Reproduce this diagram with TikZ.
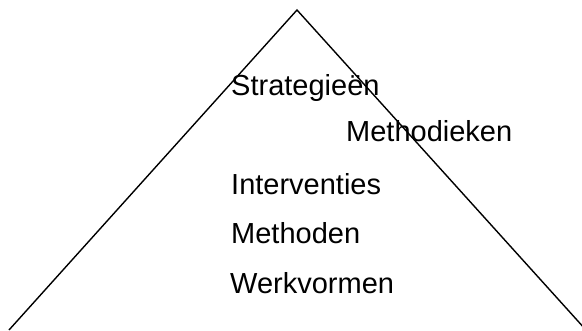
\documentclass[tikz,border=0pt]{standalone}
\usepackage{fontspec}
\setmainfont{Liberation Sans}
\begin{document}
\begin{tikzpicture}[x=1pt,y=-1pt,
  lbl/.style={anchor=base west,inner sep=0pt,font=\fontsize{29}{32}\selectfont},
  edge/.style={draw=black,line width=1.4pt}]
\useasboundingbox (0,0) rectangle (582,330);
\begin{scope}
\clip (0,0) rectangle (582,330);
\coordinate (apex) at (297,10);
\coordinate (bl) at (9,330);
\coordinate (br) at (586,330);
\draw[edge] (bl) -- (apex) -- (br);
\end{scope}
\node[lbl] (s) at (231,95) {Strategieën};
\node[lbl] (md) at (346,141) {Methodieken};
\node[lbl] (i) at (231,194) {Interventies};
\node[lbl] (m) at (231,243) {Methoden};
\node[lbl] (w) at (230,293) {Werkvormen};
\end{tikzpicture}
\end{document}
